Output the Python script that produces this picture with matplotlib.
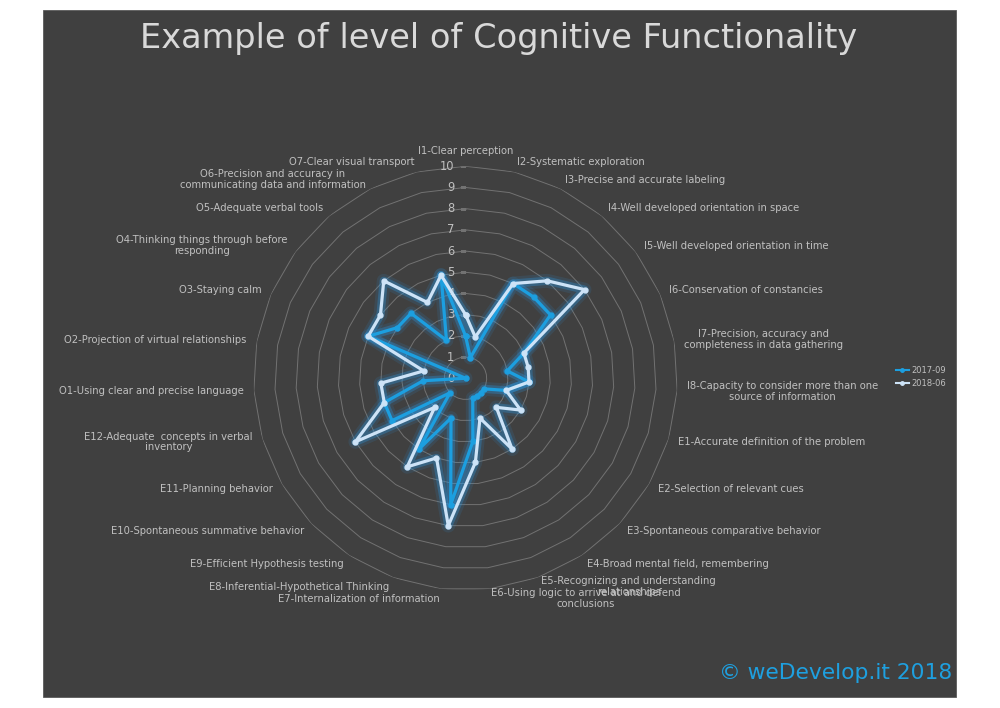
import numpy as np
import matplotlib
matplotlib.use("Agg")
import matplotlib.pyplot as plt
from matplotlib.patches import Rectangle
from matplotlib.lines import Line2D

# axis categories, clockwise from the top
labels = [
    "I1-Clear perception",
    "I2-Systematic exploration",
    "I3-Precise and accurate labeling",
    "I4-Well developed orientation in space",
    "I5-Well developed orientation in time",
    "I6-Conservation of constancies",
    "I7-Precision, accuracy and\ncompleteness in data gathering",
    "I8-Capacity to consider more than one\nsource of information",
    "E1-Accurate definition of the problem",
    "E2-Selection of relevant cues",
    "E3-Spontaneous comparative behavior",
    "E4-Broad mental field, remembering",
    "E5-Recognizing and understanding\nrelationships",
    "E6-Using logic to arrive at and defend\nconclusions",
    "E7-Internalization of information",
    "E8-Inferential-Hypothetical Thinking",
    "E9-Efficient Hypothesis testing",
    "E10-Spontaneous summative behavior",
    "E11-Planning behavior",
    "E12-Adequate  concepts in verbal\ninventory",
    "O1-Using clear and precise language",
    "O2-Projection of virtual relationships",
    "O3-Staying calm",
    "O4-Thinking things through before\nresponding",
    "O5-Adequate verbal tools",
    "O6-Precision and accuracy in\ncommunicating data and information",
    "O7-Clear visual transport",
]

scores_2017 = [2, 1, 5, 5, 5, 3, 2, 3,
               2, 1, 1, 1, 1, 3, 6, 2, 4, 1, 4, 4,
               2, 0, 5, 4, 4, 2, 5]
scores_2018 = [3, 2, 5, 6, 7, 3, 3, 3,
               2, 3, 2, 4, 2, 4, 7, 4, 5, 2, 6, 4,
               4, 2, 5, 5, 6, 4, 5]
series_names = ["2017-09", "2018-06"]
rings = list(range(0, 11))

txt_col = "#c0c0c0"
grid_col = "#727272"
blue = "#1c9fe0"
light = "#cde3f7"
glow = "#2a9ae8"

fig = plt.figure(figsize=(10, 7.08), dpi=100)
fig.patch.set_facecolor("white")
fig.patches.append(Rectangle((0.043, 0.0155), 0.913, 0.9704, transform=fig.transFigure,
                             facecolor="#404040", edgecolor="#5a5a5a", lw=0.6, zorder=-5))

ax = fig.add_axes([0.2535, 0.1663, 0.424, 0.5989], projection="polar")
ax.set_zorder(2)
ax.patch.set_alpha(0)
ax.set_theta_zero_location("N")
ax.set_theta_direction(-1)
ax.set_ylim(0, 10)
ax.grid(False)
ax.spines["polar"].set_visible(False)
ax.set_xticks([])
ax.set_yticks([])

n = len(labels)
theta = np.arange(n) * 2 * np.pi / n
closed = np.append(theta, theta[0])

# polygon gridlines
for r in rings[1:]:
    ax.plot(closed, [r] * (n + 1), color=grid_col, lw=0.7, zorder=1)

# value axis labels
for r in rings:
    ax.plot(0, r, marker=0, ms=4, color=grid_col, mew=0.8, zorder=1)
    ax.annotate(str(r), xy=(0, r), xytext=(-11, 0), textcoords="offset pixels",
                ha="right", va="center", fontsize=8.3, color=txt_col)

# category labels
for t, lab in zip(theta, labels):
    s, c = np.sin(t), np.cos(t)
    if abs(s) < 0.05:
        ha, va = "center", ("bottom" if c > 0 else "top")
    else:
        ha, va = ("left" if s > 0 else "right"), "center"
    ax.annotate(lab, xy=(t, 10), xytext=(10 * s, 10 * c), textcoords="offset pixels",
                ha=ha, va=va, multialignment="center", fontsize=7.2, color=txt_col,
                linespacing=1.1, annotation_clip=False)

# data series with a soft glow
for vals, col in zip([scores_2017, scores_2018], [blue, light]):
    v = np.append(vals, vals[0])
    ax.plot(closed, v, color=glow, lw=10, alpha=0.12, solid_joinstyle="round", zorder=2)
    ax.plot(closed, v, color=glow, lw=6, alpha=0.3, solid_joinstyle="round", zorder=2)
    ax.plot(closed, v, color=col, lw=2.3, marker="o", ms=3.5, mec=col, mfc=col,
            solid_joinstyle="round", zorder=3)

handles = [Line2D([], [], color=blue, lw=1.5, marker="o", ms=2.5),
           Line2D([], [], color=light, lw=1.5, marker="o", ms=2.5)]
fig.legend(handles, series_names, loc="center left", bbox_to_anchor=(0.888, 0.4675),
           frameon=False, fontsize=6, labelcolor=txt_col, handlelength=1.6,
           handletextpad=0.3, labelspacing=0.55)

fig.text(0.499, 0.9463, "Example of level of Cognitive Functionality", ha="center",
         va="center", fontsize=24.2, color="#d9d9d9")
fig.text(0.952, 0.0494, "\u00a9 weDevelop.it 2018", ha="right", va="center",
         fontsize=15.7, color="#1ea0e0")

fig.savefig("out.png", dpi=100, facecolor="white")
